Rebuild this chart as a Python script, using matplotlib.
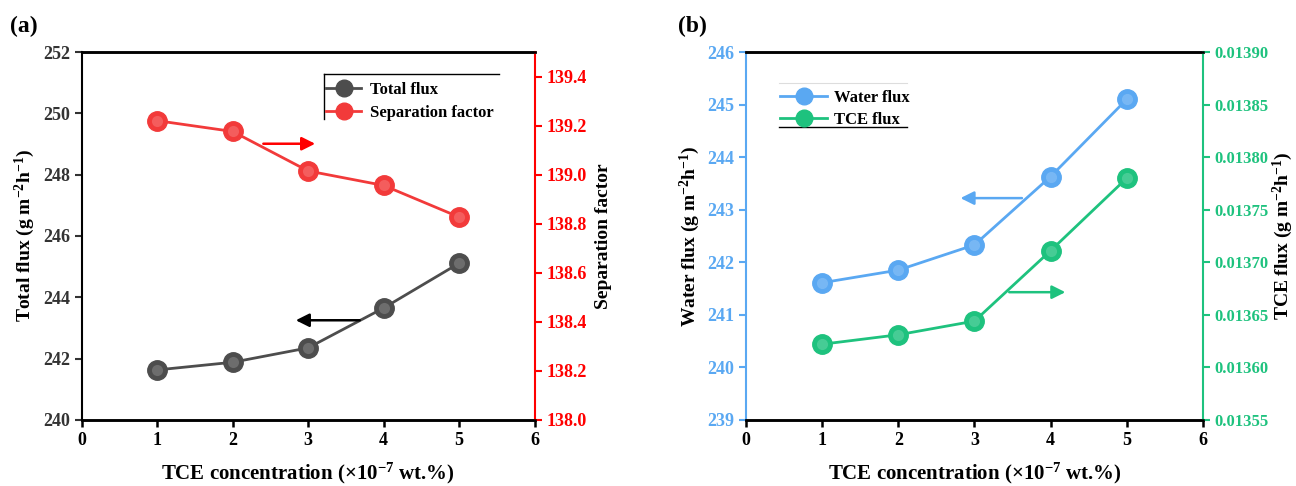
import matplotlib
matplotlib.use("Agg")
import matplotlib.pyplot as plt
from matplotlib.lines import Line2D

plt.rcParams['font.family'] = ['Liberation Serif', 'DejaVu Serif']
plt.rcParams['font.weight'] = 'bold'
plt.rcParams['mathtext.fontset'] = 'custom'
plt.rcParams['mathtext.rm'] = 'Liberation Serif:bold'
plt.rcParams['mathtext.bf'] = 'Liberation Serif:bold'
plt.rcParams['mathtext.it'] = 'Liberation Serif:bold:italic'

# data
conc = [1, 2, 3, 4, 5]
total_flux = [241.63, 241.88, 242.35, 243.65, 245.11]
sep_factor = [139.22, 139.176, 139.015, 138.956, 138.827]
water_flux = [241.61, 241.85, 242.33, 243.63, 245.10]
tce_flux = [0.013622, 0.013631, 0.013644, 0.013711, 0.013780]

GRAY = '#4d4d4d'
RED = '#f23a3a'
BLUE = '#5aa8f2'
GREEN = '#1ec27e'
XLABEL = 'TCE concentration (\u00d710$^{-7}$ wt.%)'
FLUX_UNIT = ' (g m$^{-2}$h$^{-1}$)'


def style_axes(ax, ax2, lcol, rcol):
    ax.set_xlim(0, 6)
    ax.set_xticks(range(0, 7))
    ax.spines['left'].set_color(lcol)
    ax.spines['right'].set_visible(False)
    ax2.spines['left'].set_visible(False)
    ax2.spines['right'].set_color(rcol)
    for a in (ax, ax2):
        a.spines['top'].set_linewidth(1.8)
        a.spines['bottom'].set_linewidth(1.8)
        a.spines['left'].set_linewidth(1.5)
        a.spines['right'].set_linewidth(1.5)
    ax.tick_params(axis='y', colors=lcol, labelsize=13, width=1.5, length=5)
    ax2.tick_params(axis='y', colors=rcol, labelsize=13, width=1.5, length=5)
    ax.tick_params(axis='x', labelsize=13, width=1.8, length=5)
    ax.set_xlabel(XLABEL, fontsize=15, fontweight='bold', labelpad=9)


def sphere_plot(ax, x, y, color, label):
    ax.plot(x, y, '-', color=color, lw=2, marker='o', ms=14,
            mfc=color, mec=color, label=label, zorder=3)
    # soft highlight for a sphere look
    ax.plot(x, y, 'o', ms=8, mfc='white', mec='none', alpha=0.18, zorder=4)


fig = plt.figure(figsize=(12.96, 4.86), dpi=100)

# ---- panel (a)
ax1 = fig.add_axes([0.063, 0.136, 0.3495, 0.757])
ax1b = ax1.twinx()
sphere_plot(ax1, conc, total_flux, GRAY, 'Total flux')
sphere_plot(ax1b, conc, sep_factor, RED, 'Separation factor')
ax1.set_ylim(240, 252)
ax1.set_yticks(range(240, 253, 2))
ax1b.set_ylim(138.0, 139.5)
ax1b.set_yticks([138.0, 138.2, 138.4, 138.6, 138.8, 139.0, 139.2, 139.4])
ax1b.set_yticklabels(['%.1f' % v for v in ax1b.get_yticks()])
style_axes(ax1, ax1b, 'black', 'red')
ax1.tick_params(axis='y', colors='#333333')
ax1.set_ylabel('Total flux' + FLUX_UNIT, fontsize=14, fontweight='bold')
ax1b.set_ylabel('Separation factor', fontsize=14, fontweight='bold', labelpad=6)
ax1.annotate('', xy=(2.8, 243.25), xytext=(3.72, 243.25),
             arrowprops=dict(arrowstyle='-|>', color='black', lw=1.8, mutation_scale=20))
ax1b.annotate('', xy=(3.13, 139.126), xytext=(2.37, 139.126),
              arrowprops=dict(arrowstyle='-|>', color='red', lw=1.8, mutation_scale=20))
h = [Line2D([], [], color=GRAY, lw=2, marker='o', ms=12),
     Line2D([], [], color=RED, lw=2, marker='o', ms=12)]
ax1b.legend(h, ['Total flux', 'Separation factor'], loc='upper left',
            bbox_to_anchor=(0.54, 0.918), frameon=False, fontsize=12,
            borderpad=0, borderaxespad=0,
            handlelength=2.1, handletextpad=0.5, labelspacing=0.4)
ax1b.plot([0.535, 0.922], [0.941, 0.941], transform=ax1b.transAxes, color='black', lw=1)
ax1b.plot([0.535, 0.535], [0.941, 0.818], transform=ax1b.transAxes, color='black', lw=1)
fig.text(0.008, 0.935, '(a)', fontsize=17, fontweight='bold')

# ---- panel (b)
ax2 = fig.add_axes([0.5756, 0.136, 0.3526, 0.757])
ax2b = ax2.twinx()
sphere_plot(ax2, conc, water_flux, BLUE, 'Water flux')
sphere_plot(ax2b, conc, tce_flux, GREEN, 'TCE flux')
ax2.set_ylim(239, 246)
ax2.set_yticks(range(239, 247))
ax2b.set_ylim(0.01355, 0.01390)
ax2b.set_yticks([0.01355, 0.01360, 0.01365, 0.01370, 0.01375, 0.01380, 0.01385, 0.01390])
ax2b.set_yticklabels(['%.5f' % v for v in ax2b.get_yticks()])
style_axes(ax2, ax2b, BLUE, GREEN)
ax2b.tick_params(axis='y', labelsize=12, pad=3)
ax2.set_ylabel('Water flux' + FLUX_UNIT, fontsize=14, fontweight='bold')
ax2b.set_ylabel('TCE flux' + FLUX_UNIT, fontsize=14, fontweight='bold', labelpad=2)
ax2.annotate('', xy=(2.78, 243.22), xytext=(3.66, 243.22),
             arrowprops=dict(arrowstyle='-|>', color=BLUE, lw=1.8, mutation_scale=20))
ax2b.annotate('', xy=(4.23, 0.0136715), xytext=(3.42, 0.0136715),
              arrowprops=dict(arrowstyle='-|>', color=GREEN, lw=1.8, mutation_scale=20))
h = [Line2D([], [], color=BLUE, lw=2, marker='o', ms=12),
     Line2D([], [], color=GREEN, lw=2, marker='o', ms=12)]
ax2b.legend(h, ['Water flux', 'TCE flux'], loc='upper left',
            bbox_to_anchor=(0.075, 0.898), frameon=False, fontsize=12,
            borderpad=0, borderaxespad=0,
            handlelength=2.8, handletextpad=0.4, labelspacing=0.4)
ax2b.plot([0.072, 0.352], [0.915, 0.915], transform=ax2b.transAxes, color='#dddddd', lw=0.8)
ax2b.plot([0.072, 0.352], [0.797, 0.797], transform=ax2b.transAxes, color='black', lw=1)
fig.text(0.523, 0.935, '(b)', fontsize=17, fontweight='bold')

fig.savefig('out.png', dpi=100)
